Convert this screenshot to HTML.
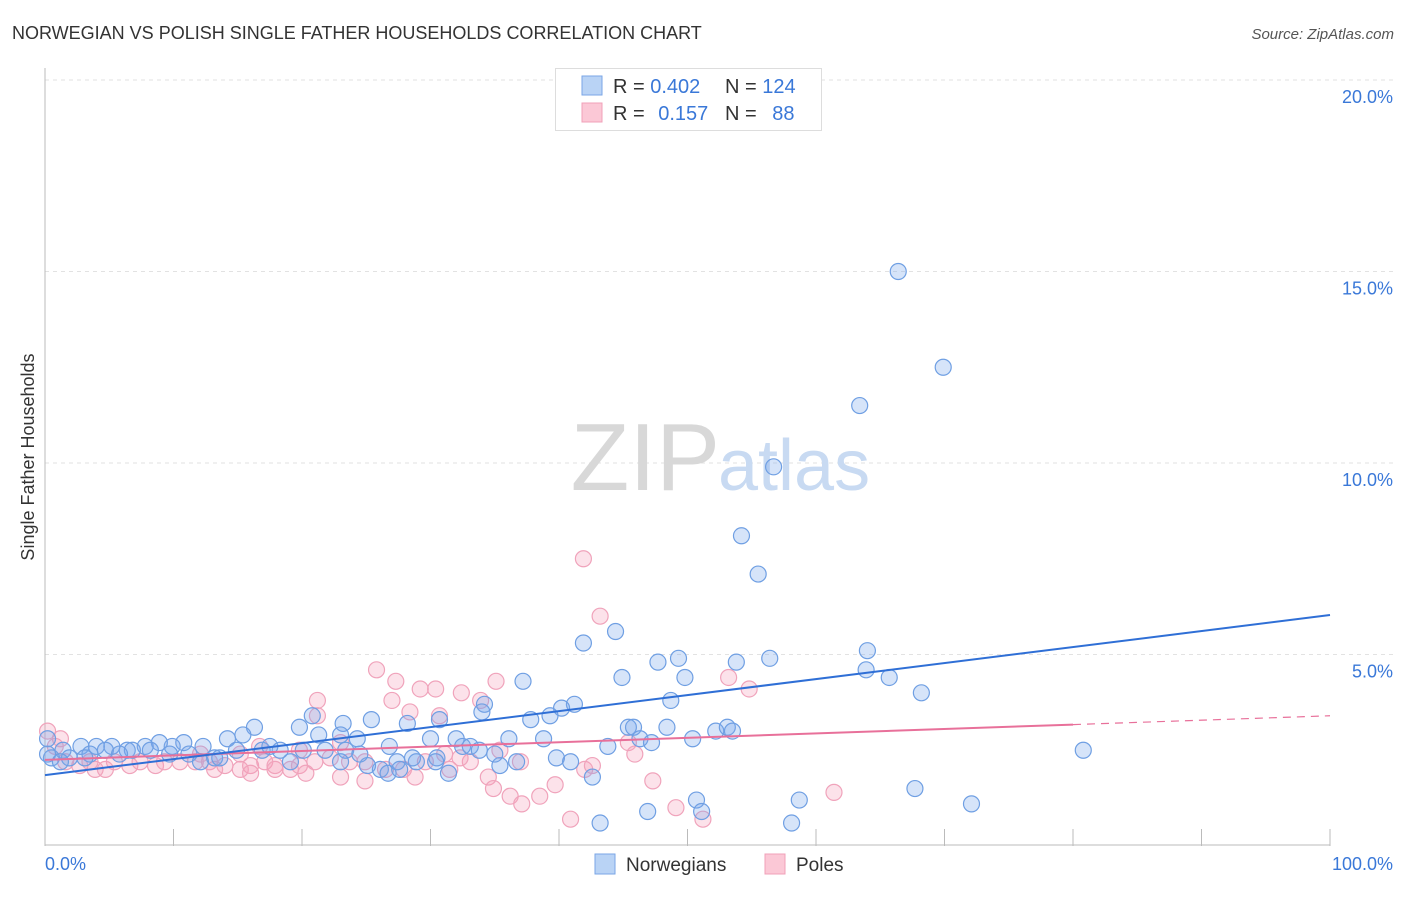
<!DOCTYPE html>
<html><head><meta charset="utf-8">
<style>
body{margin:0;background:#fff;font-family:"Liberation Sans",sans-serif;}
svg text{font-family:"Liberation Sans",sans-serif;}
</style></head>
<body>
<svg id="chart" width="1406" height="892" viewBox="0 0 1406 892">
<text x="12" y="39" font-size="18" fill="#333">NORWEGIAN VS POLISH SINGLE FATHER HOUSEHOLDS CORRELATION CHART</text>
<text x="1394" y="39" font-size="15" fill="#555" text-anchor="end" font-style="italic">Source: ZipAtlas.com</text>
<g id="grid"></g>
<text x="720" y="490" font-size="96" fill="#d8d8d8" text-anchor="end" font-family="Liberation Serif">ZIP</text>
<text x="718" y="490" font-size="72" fill="#c8daf2">atlas</text>
<text transform="translate(34,457) rotate(-90)" font-size="18" fill="#333" text-anchor="middle">Single Father Households</text>
<g id="points"></g>
<g id="trends"></g>
<g>
<rect x="555.5" y="68.5" width="266" height="62" fill="#fff" stroke="#ddd"/>
<rect x="582" y="76" width="20" height="19" fill="#b9d3f5" stroke="#7aa6e6"/>
<rect x="582" y="103" width="20" height="19" fill="#fbc8d6" stroke="#f0a0b8"/>
<text x="613" y="93" font-size="20" fill="#333">R = <tspan fill="#3a78d8">0.402</tspan></text>
<text x="725" y="93" font-size="20" fill="#333">N = <tspan fill="#3a78d8">124</tspan></text>
<text x="613" y="120" font-size="20" fill="#333">R = <tspan fill="#3a78d8" dx="8">0.157</tspan></text>
<text x="725" y="120" font-size="20" fill="#333">N = <tspan fill="#3a78d8" dx="10">88</tspan></text>
</g>
<g>
<rect x="595" y="854" width="20" height="20" fill="#b9d3f5" stroke="#7aa6e6"/>
<text x="626" y="871" font-size="19" fill="#333">Norwegians</text>
<rect x="765" y="854" width="20" height="20" fill="#fbc8d6" stroke="#f0a0b8"/>
<text x="796" y="871" font-size="19" fill="#333">Poles</text>
</g>
</svg>
<script>
const yTicks=[5,10,15,20];
const yTickLabels=["5.0%","10.0%","15.0%","20.0%"];
const xTicks=[0,10,20,30,40,50,60,70,80,90,100];
const blueX=[66.4,69.9,63.4,56.7,54.2,55.5,41.9,44.4,37.2,44.9,47.7,49.3,49.8,53.8,56.4,64.0,63.9,65.7,68.2,80.8,48.7,41.2,40.2,39.3,37.8,34.2,34.0,30.7,28.2,25.4,23.2,20.8,19.8,23.0,24.3,21.3,16.3,15.4,14.2,12.3,10.8,9.9,8.9,7.8,6.4,5.2,4.0,2.8,1.4,0.5,0.2,1.9,3.5,4.7,6.8,8.2,9.7,11.2,12.1,13.2,14.9,16.9,18.3,20.1,21.8,23.4,25.1,26.1,26.7,27.4,28.9,30.5,32.0,32.5,33.1,31.4,33.8,35.4,36.1,36.7,38.8,39.8,40.9,42.6,43.8,45.4,45.8,46.3,47.2,48.4,50.4,52.2,53.1,53.5,43.2,46.9,50.7,51.1,58.7,58.1,67.7,72.1,30.0,28.6,24.5,17.5,19.1,13.6,5.8,3.1,1.2,0.2,30.4,26.8,35.0,27.6,23.0];
const blueY=[15.0,12.5,11.5,9.9,8.1,7.1,5.3,5.6,4.3,4.4,4.8,4.9,4.4,4.8,4.9,5.1,4.6,4.4,4.0,2.5,3.8,3.7,3.6,3.4,3.3,3.7,3.5,3.3,3.2,3.3,3.2,3.4,3.1,2.9,2.8,2.9,3.1,2.9,2.8,2.6,2.7,2.6,2.7,2.6,2.5,2.6,2.6,2.6,2.5,2.3,2.4,2.3,2.4,2.5,2.5,2.5,2.4,2.4,2.2,2.3,2.5,2.5,2.5,2.5,2.5,2.5,2.1,2.0,1.9,2.2,2.2,2.3,2.8,2.6,2.6,1.9,2.5,2.1,2.8,2.2,2.8,2.3,2.2,1.8,2.6,3.1,3.1,2.8,2.7,3.1,2.8,3.0,3.1,3.0,0.6,0.9,1.2,0.9,1.2,0.6,1.5,1.1,2.8,2.3,2.4,2.6,2.2,2.3,2.4,2.3,2.2,2.8,2.2,2.6,2.4,2.0,2.2];
const pinkX=[41.9,43.2,25.8,27.3,29.2,30.4,32.4,35.1,33.9,30.7,21.2,27.0,28.4,21.2,0.2,0.8,1.2,1.6,2.7,3.9,4.7,5.4,6.6,7.4,8.6,9.3,10.5,11.7,12.8,14.0,15.2,16.0,17.1,17.9,19.1,19.8,21.0,22.2,23.7,24.9,26.5,27.9,29.6,31.5,33.1,34.5,34.9,36.2,37.1,38.5,39.7,40.9,42.0,42.6,45.4,45.9,47.3,49.1,51.2,53.2,54.8,61.4,20.3,17.9,16.0,13.2,3.5,23.0,24.9,28.8,31.1,32.3,35.4,37.0,23.0,19.8,16.7,15.2,12.1];
const pinkY=[7.5,6.0,4.6,4.3,4.1,4.1,4.0,4.3,3.8,3.4,3.8,3.8,3.5,3.4,3.0,2.6,2.8,2.2,2.1,2.0,2.0,2.2,2.1,2.2,2.1,2.2,2.2,2.2,2.2,2.1,2.0,2.1,2.2,2.1,2.0,2.1,2.2,2.3,2.2,2.2,2.0,2.0,2.2,2.0,2.2,1.8,1.5,1.3,1.1,1.3,1.6,0.7,2.0,2.1,2.7,2.4,1.7,1.0,0.7,4.4,4.1,1.4,1.9,2.0,1.9,2.0,2.2,1.8,1.7,1.8,2.4,2.3,2.5,2.2,2.7,2.5,2.6,2.4,2.4];
const blueTrend=[1.85,6.03];
const pinkTrend=[2.25,3.4];
const pinkSolidEnd=80;

const X0=45,X1=1330,Y0=846,PER=38.3;
const sx=v=>X0+(X1-X0)*v/100;
const sy=v=>Y0-PER*v;
const NS='http://www.w3.org/2000/svg';
function mk(tag,attrs,parent){const e=document.createElementNS(NS,tag);for(const k in attrs)e.setAttribute(k,attrs[k]);parent.appendChild(e);return e;}
const grid=document.getElementById('grid');
const svg=document.getElementById('chart');
mk('line',{x1:45,y1:80,x2:1394,y2:80,stroke:'#ddd','stroke-dasharray':'4,4'},grid);
yTicks.forEach((t,i)=>{
  const l=mk('line',{x1:45,y1:sy(t),x2:1394,y2:sy(t),stroke:'#e2e2e2','stroke-dasharray':'4,4'},grid);
  
  
  const tx=mk('text',{x:1393,y:sy(t)+23,'font-size':18,fill:'#3a78d8','text-anchor':'end'},grid);
  tx.textContent=yTickLabels[i];
  
  
});
mk('line',{x1:45,y1:68,x2:45,y2:846,stroke:'#bbb'},grid);
mk('line',{x1:45,y1:845,x2:1330,y2:845,stroke:'#bbb'},grid);
xTicks.forEach(t=>{
  const l=mk('line',{x1:sx(t),y1:829,x2:sx(t),y2:846,stroke:'#bbb'},grid);
  
  
});
const xl0=mk('text',{x:45,y:870,'font-size':18,fill:'#3a78d8'},grid);xl0.textContent='0.0%';


const xl1=mk('text',{x:1393,y:870,'font-size':18,fill:'#3a78d8','text-anchor':'end'},grid);xl1.textContent='100.0%';



const pts=document.getElementById('points');
pinkX.forEach((x,i)=>{
  const c=mk('circle',{cx:sx(x),cy:sy(pinkY[i]),r:8,fill:'rgba(245,160,185,0.3)',stroke:'#f0a3bb','stroke-width':1.2},pts);
  
  
});
blueX.forEach((x,i)=>{
  const c=mk('circle',{cx:sx(x),cy:sy(blueY[i]),r:8,fill:'rgba(120,165,235,0.3)',stroke:'#6f9fe3','stroke-width':1.2},pts);
  
  
});
const tr=document.getElementById('trends');
const pAt=v=>pinkTrend[0]+(pinkTrend[1]-pinkTrend[0])*v/100;
const pl=mk('line',{x1:sx(0),y1:sy(pinkTrend[0]),x2:sx(pinkSolidEnd),y2:sy(pAt(pinkSolidEnd)),stroke:'#e8709a','stroke-width':2},tr);


const pd=mk('line',{x1:sx(pinkSolidEnd),y1:sy(pAt(pinkSolidEnd)),x2:sx(100),y2:sy(pinkTrend[1]),stroke:'#e8709a','stroke-width':1.2,'stroke-dasharray':'8,6'},tr);


const bl=mk('line',{x1:sx(0),y1:sy(blueTrend[0]),x2:sx(100),y2:sy(blueTrend[1]),stroke:'#2f6fd6','stroke-width':2},tr);


</script>
</body></html>
